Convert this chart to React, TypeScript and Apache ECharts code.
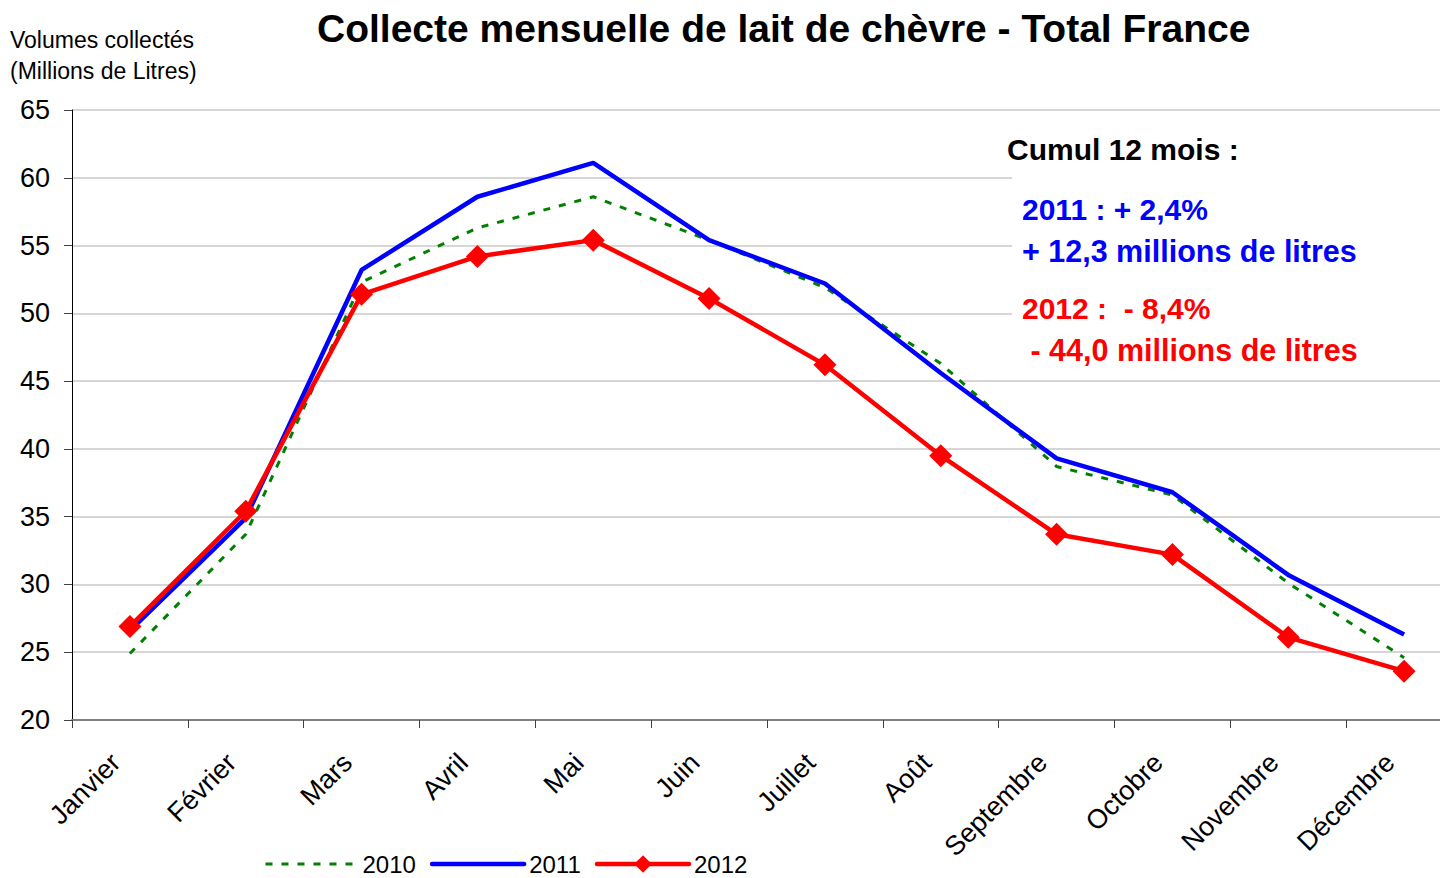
import React, { useEffect, useRef } from "react";
import * as echarts from "echarts";

const months = ["Janvier", "Février", "Mars", "Avril", "Mai", "Juin", "Juillet", "Août", "Septembre", "Octobre", "Novembre", "Décembre"];
const s2010 = [24.9, 33.7, 52.3, 56.3, 58.6, 55.4, 51.9, 46.3, 38.7, 36.6, 30.1, 24.6];
const s2011 = [26.6, 34.9, 53.2, 58.6, 61.1, 55.4, 52.2, 45.6, 39.3, 36.8, 30.7, 26.3];
const s2012 = [26.9, 35.4, 51.4, 54.2, 55.4, 51.1, 46.2, 39.5, 33.7, 32.2, 26.1, 23.6];
const yTicks = { min: 20, max: 65, interval: 5 };

const FONT = "'Liberation Sans', Arial, sans-serif";

export default function App() {
  const ref = useRef<HTMLDivElement>(null);
  useEffect(() => {
    if (!ref.current) return;
    const chart = echarts.init(ref.current, undefined, { renderer: "svg" });
    chart.setOption({
      animation: false,
      backgroundColor: "#ffffff",
      textStyle: { fontFamily: FONT },
      title: {
        text: "Collecte mensuelle de lait de chèvre - Total France",
        left: 312,
        top: 4,
        textStyle: { fontFamily: FONT, fontSize: 39, fontWeight: "bold", color: "#000" },
      },
      grid: { left: 72, top: 110, right: 0, bottom: 158 },
      legend: {
        left: 264,
        top: 852,
        itemWidth: 92,
        itemHeight: 22,
        itemGap: 14,
        padding: 0,
        textStyle: { fontFamily: FONT, fontSize: 24, lineHeight: 24, color: "#000" },
        data: [
          { name: "2010", itemStyle: { opacity: 0 }, lineStyle: { width: 3 } },
          { name: "2011", itemStyle: { opacity: 0 }, lineStyle: { width: 4.5, cap: "round" } },
          { name: "2012", lineStyle: { width: 4.5, cap: "round" } },
        ],
      },
      xAxis: {
        type: "category",
        data: months,
        boundaryGap: true,
        axisLine: { lineStyle: { color: "#808080", width: 2 } },
        axisTick: { show: true, alignWithLabel: false, length: 8, lineStyle: { color: "#404040", width: 1 } },
        axisLabel: {
          rotate: 45,
          fontSize: 27,
          color: "#000",
          margin: 24,
          padding: [0, 20, 0, 0],
          fontFamily: FONT,
          interval: 0,
        },
        splitLine: { show: false },
      },
      yAxis: {
        type: "value",
        min: yTicks.min,
        max: yTicks.max,
        interval: yTicks.interval,
        axisLine: { show: true, lineStyle: { color: "#000", width: 1 } },
        axisTick: { show: true, inside: false, length: 8, lineStyle: { color: "#404040" } },
        axisLabel: { fontSize: 27, color: "#000", margin: 22, fontFamily: FONT },
        splitLine: { show: true, lineStyle: { color: "#c8c8c8", width: 1.5 } },
      },
      series: [
        {
          name: "2010",
          type: "line",
          data: s2010,
          symbol: "none",
          showSymbol: false,
          lineStyle: { color: "#008000", width: 3, type: [7, 9] },
          itemStyle: { color: "#008000" },
          z: 2,
        },
        {
          name: "2011",
          type: "line",
          data: s2011,
          symbol: "none",
          showSymbol: false,
          lineStyle: { color: "#0000ff", width: 4.5 },
          itemStyle: { color: "#0000ff" },
          z: 3,
        },
        {
          name: "2012",
          type: "line",
          data: s2012,
          symbol: "diamond",
          symbolSize: 23,
          lineStyle: { color: "#ff0000", width: 4.5 },
          itemStyle: { color: "#ff0000" },
          z: 4,
        },
      ],
      graphic: [
        {
          type: "text",
          left: 10,
          top: 24,
          style: {
            text: "Volumes collectés\n(Millions de Litres)",
            fontFamily: FONT,
            fontSize: 23,
            lineHeight: 31,
            fill: "#000",
          },
        },
        {
          type: "rect",
          shape: { x: 1012, y: 128, width: 460, height: 244 },
          style: { fill: "#ffffff" },
          z: 10,
        },
        {
          type: "text",
          x: 1007,
          y: 134,
          z: 11,
          style: { text: "Cumul 12 mois :", fontFamily: FONT, fontSize: 30, fontWeight: "bold", fill: "#000" },
        },
        {
          type: "text",
          x: 1022,
          y: 194,
          z: 11,
          style: { text: "2011 : + 2,4%", fontFamily: FONT, fontSize: 30, fontWeight: "bold", fill: "#0000ff" },
        },
        {
          type: "text",
          x: 1022,
          y: 235,
          z: 11,
          style: { text: "+ 12,3 millions de litres", fontFamily: FONT, fontSize: 30.5, fontWeight: "bold", fill: "#0000ff" },
        },
        {
          type: "text",
          x: 1022,
          y: 293,
          z: 11,
          style: { text: "2012 :  - 8,4%", fontFamily: FONT, fontSize: 30, fontWeight: "bold", fill: "#ff0000" },
        },
        {
          type: "text",
          x: 1022,
          y: 334,
          z: 11,
          style: { text: " - 44,0 millions de litres", fontFamily: FONT, fontSize: 30.5, fontWeight: "bold", fill: "#ff0000" },
        },
      ],
    });
    return () => chart.dispose();
  }, []);
  return (
    <div style={{ position: "fixed", left: 0, top: 0, width: 1440, height: 878, overflow: "hidden", background: "#fff" }}>
      <div ref={ref} style={{ width: 1462, height: 878 }} />
    </div>
  );
}
